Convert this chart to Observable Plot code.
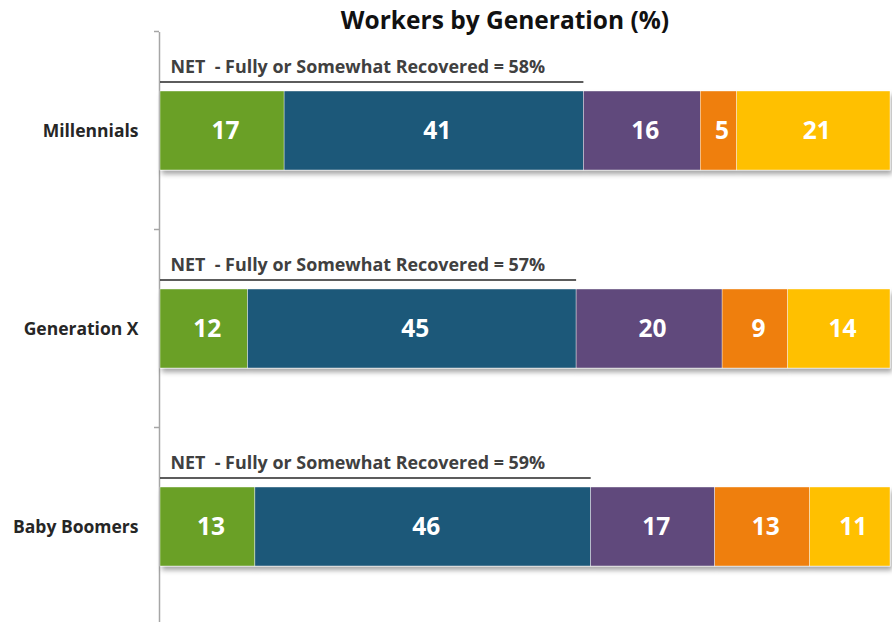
<!DOCTYPE html>
<html>
<head>
<meta charset="utf-8">
<script src="https://cdn.jsdelivr.net/npm/d3@7"></script>
<script src="https://cdn.jsdelivr.net/npm/@observablehq/plot@0.6"></script>
<style>
  html, body { margin: 0; padding: 0; background: #fff; }
  #wrap { position: relative; width: 892px; height: 622px; font-family: "Open Sans", sans-serif; }
  #title { position: absolute; left: 0; width: 1010px; top: 3px; text-align: center; font-weight: 700; font-size: 24.5px; line-height: 34px; color: #111; }
  #chart { position: absolute; left: 0; top: 0; }
</style>
</head>
<body>
<div id="wrap">
  <div id="chart"></div>
  <div id="title">Workers by Generation (%)</div>
</div>
<script>
const generations = ["Millennials", "Generation X", "Baby Boomers"];
const seriesNames = ["Fully recovered", "Somewhat recovered", "Not very recovered", "Not at all recovered", "Not affected"];
const seriesColors = ["#6AA028", "#1F5879", "#604A7B", "#EF7F0B", "#FFC000"];
const millennials = [17, 41, 16, 5, 21];
const generationX = [12, 45, 20, 9, 14];
const babyBoomers = [13, 46, 17, 13, 11];
const netRecovered = [58, 57, 59];
const netLabel = "NET  - Fully or Somewhat Recovered = ";

const rows = [millennials, generationX, babyBoomers];
const data = [];
generations.forEach((g, gi) => {
  rows[gi].forEach((v, si) => data.push({gen: g, series: seriesNames[si], value: v}));
});
const nets = generations.map((g, i) => ({gen: g, net: netRecovered[i], label: netLabel + netRecovered[i] + "%"}));

const chart = Plot.plot({
  width: 892,
  height: 622,
  marginLeft: 160,
  marginRight: 2,
  marginTop: 32,
  marginBottom: 0,
  style: {fontFamily: "Open Sans, sans-serif", background: "white"},
  x: {domain: [0, 100], axis: null},
  y: {domain: generations, range: [32, 626], paddingInner: 0.6, paddingOuter: 0.3, label: null},
  color: {domain: seriesNames, range: seriesColors},
  marks: [
    Plot.axisY({tickSize: 0, tickPadding: 22, fontSize: 17.5, fontWeight: 700, fill: "#262626", label: null}),
    Plot.ruleX([0], {stroke: "#a6a6a6", strokeWidth: 1.5, dx: -1}),
    Plot.barX(data, Plot.stackX({x: "value", y: "gen", fill: "series", order: null, stroke: "white", strokeWidth: 0.4})),
    Plot.text(data, Plot.stackX({x: "value", y: "gen", z: "series", order: null, text: d => String(d.value), fill: "white", fontSize: 24.5, fontWeight: 700, dx: 3})),
    Plot.ruleY(nets, {y: "gen", x1: 0, x2: "net", stroke: "#262626", strokeWidth: 1.5, dy: -49}),
    Plot.text(nets, {y: "gen", x: 0, text: "label", textAnchor: "start", dx: 10, dy: -64, fontSize: 17.9, fontWeight: 700, fill: "#404040"})
  ]
});

// drop shadow for bars
const svg = d3.select(chart);
const defs = svg.insert("defs", ":first-child");
const f = defs.append("filter").attr("id", "shadow").attr("x", "-5%").attr("y", "-20%").attr("width", "110%").attr("height", "150%");
f.append("feDropShadow").attr("dx", 2).attr("dy", 4).attr("stdDeviation", 2.5).attr("flood-color", "#000").attr("flood-opacity", 0.35);
svg.selectAll("g[aria-label='bar']").attr("filter", "url(#shadow)");

// category-boundary ticks on the y axis, from the band scale
const ys = chart.scale("y");
const step = ys.step, bw = ys.bandwidth;
const x0 = chart.scale("x").apply(0) - 1;
svg.append("g").attr("stroke", "#a6a6a6").attr("stroke-width", 1.5)
  .selectAll("line").data(generations).join("line")
  .attr("x1", x0 - 5).attr("x2", x0)
  .attr("y1", d => ys.apply(d) + bw / 2 - step / 2)
  .attr("y2", d => ys.apply(d) + bw / 2 - step / 2);

document.getElementById("chart").appendChild(chart);
</script>
</body>
</html>
